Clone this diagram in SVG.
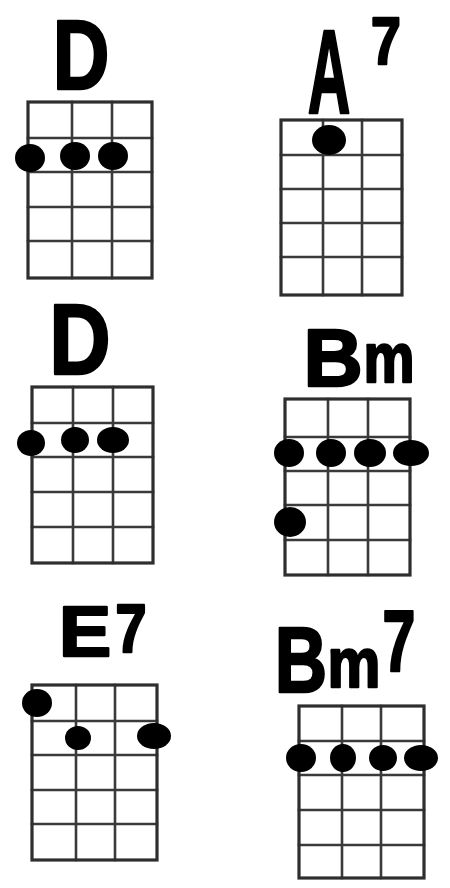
<svg xmlns="http://www.w3.org/2000/svg" width="450" height="888" viewBox="0 0 450 888">
<style>
.grid{fill:none;stroke:#3a3a3a;stroke-width:2.6;stroke-linecap:square}
.frame{fill:none;stroke:#2e2e2e;stroke-width:3.2}
.dot{fill:#000}
.lbl{font-family:"Liberation Sans","DejaVu Sans",sans-serif;font-weight:bold;fill:#000;stroke:#000;stroke-width:2.5;stroke-linejoin:round;text-anchor:middle}
</style>
<rect width="450" height="888" fill="#fff"/>
<g id="chord-D-1">
<text class="lbl" font-size="98" transform="translate(81,89) scale(0.8,1)">D</text>
<path class="grid" d="M72,102V278M112,102V278M28,138H152M28,172H152M28,207H152M28,241H152"/>
<rect class="frame" x="28" y="102" width="124" height="176"/>
<ellipse class="dot" cx="30" cy="158" rx="15" ry="14"/>
<ellipse class="dot" cx="75" cy="156" rx="15" ry="14"/>
<ellipse class="dot" cx="113" cy="156" rx="15" ry="14"/>
</g>
<g id="chord-A7">
<text class="lbl" font-size="118" transform="translate(329,113) scale(0.5,1)">A</text>
<text class="lbl" font-size="67" transform="translate(386,64) scale(0.8,1)">7</text>
<path class="grid" d="M323,120V295M362,120V295M281,155H402M281,189H402M281,223H402M281,257H402"/>
<rect class="frame" x="281" y="120" width="121" height="175"/>
<ellipse class="dot" cx="329" cy="140" rx="17" ry="15"/>
</g>
<g id="chord-D-2">
<text class="lbl" font-size="100" transform="translate(80,374) scale(0.85,1)">D</text>
<path class="grid" d="M73,387V563M113,387V563M32,423H153M32,457H153M32,492H153M32,527H153"/>
<rect class="frame" x="32" y="387" width="121" height="176"/>
<ellipse class="dot" cx="31" cy="443" rx="14" ry="13"/>
<ellipse class="dot" cx="75" cy="440" rx="14" ry="13"/>
<ellipse class="dot" cx="113" cy="440" rx="16" ry="13"/>
</g>
<g id="chord-Bm">
<text class="lbl" font-size="82" transform="translate(333,386)">B</text>
<text class="lbl" font-size="70" transform="translate(389,382) scale(0.82,1)">m</text>
<path class="grid" d="M328,399V575M368,399V575M285,437H410M285,471H410M285,505H410M285,540H410"/>
<rect class="frame" x="285" y="399" width="125" height="176"/>
<ellipse class="dot" cx="289" cy="453" rx="15" ry="14"/>
<ellipse class="dot" cx="331" cy="453" rx="15" ry="14"/>
<ellipse class="dot" cx="370" cy="453" rx="16" ry="14"/>
<ellipse class="dot" cx="411" cy="453" rx="18" ry="13"/>
<ellipse class="dot" cx="290" cy="522" rx="16" ry="15"/>
</g>
<g id="chord-E7">
<text class="lbl" font-size="71" transform="translate(85,656) scale(1.1,1)">E</text>
<text class="lbl" font-size="68" transform="translate(131,652) scale(0.82,1)">7</text>
<path class="grid" d="M76,685V860M115,685V860M32,721H157M32,755H157M32,790H157M32,824H157"/>
<rect class="frame" x="32" y="685" width="125" height="175"/>
<ellipse class="dot" cx="37" cy="703" rx="15" ry="14"/>
<ellipse class="dot" cx="78" cy="738" rx="13" ry="12"/>
<ellipse class="dot" cx="154" cy="736" rx="17" ry="13"/>
</g>
<g id="chord-Bm7">
<text class="lbl" font-size="93" transform="translate(301,692) scale(0.78,1)">B</text>
<text class="lbl" font-size="70" transform="translate(354,687) scale(0.85,1)">m</text>
<text class="lbl" font-size="87" transform="translate(399,671) scale(0.68,1)">7</text>
<path class="grid" d="M342,706V878M381,706V878M299,741H424M299,775H424M299,810H424M299,845H424"/>
<rect class="frame" x="299" y="706" width="125" height="172"/>
<ellipse class="dot" cx="301" cy="758" rx="15" ry="14"/>
<ellipse class="dot" cx="343" cy="758" rx="13" ry="14"/>
<ellipse class="dot" cx="383" cy="758" rx="14" ry="13"/>
<ellipse class="dot" cx="421" cy="758" rx="17" ry="13"/>
</g>
<g id="connectors"/>
</svg>
